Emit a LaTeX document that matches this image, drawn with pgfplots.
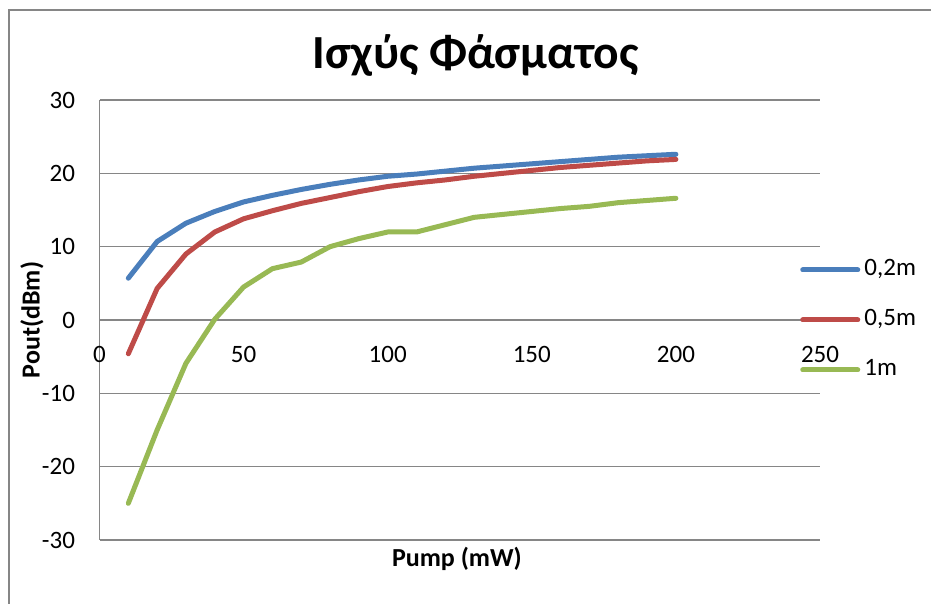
\documentclass[border=0pt]{standalone}
\usepackage{fontspec}
\setmainfont{Carlito}
\usepackage{pgfplots}
\pgfplotsset{compat=1.18}

\definecolor{serA}{HTML}{4A7EBB}
\definecolor{serB}{HTML}{BE4B48}
\definecolor{serC}{HTML}{98B954}
\definecolor{gridc}{HTML}{868686}

\begin{document}
\begin{tikzpicture}[x=1pt,y=1pt]
\useasboundingbox (0,0) rectangle (931,604);
% chart area frame
\draw[gridc, line width=1.5pt] (9,0) -- (9,594) -- (931,594);
\begin{axis}[
  at={(99.5pt,64pt)}, anchor=south west,
  scale only axis, width=720.5pt, height=440pt,
  xmin=0, xmax=250, ymin=-30, ymax=30,
  axis x line=middle, axis y line=left,
  axis line style={-, gridc, line width=1.5pt},
  hide obscured x ticks=false,
  xtick={0,50,100,150,200,250},
  xticklabels={0,50,100,150,200,250},
  ytick={-30,-20,-10,0,10,20,30},
  yticklabels={-30,-20,-10,0,10,20,30},
  major tick length=0pt,
  ymajorgrids, grid style={gridc, line width=1.5pt},
  tick label style={font=\fontsize{25}{29}\selectfont},
  xticklabel style={anchor=north, yshift=-23pt},
  yticklabel style={anchor=east, xshift=-21pt},
  title={\textbf{Ισχύς Φάσματος}},
  title style={at={(axis description cs:0.522,1.059)}, anchor=base,
    font=\fontsize{47.5}{52}\selectfont},
  xlabel={\textbf{Pump (mW)}},
  xlabel style={at={(axis description cs:0.496,0)}, anchor=center, yshift=-19pt,
    font=\fontsize{26}{30}\selectfont},
  ylabel={\textbf{Pout(dBm)}},
  ylabel style={at={(axis description cs:-0.0937,0.5)}, anchor=center, rotate=0,
    font=\fontsize{26}{30}\selectfont},
  every axis plot/.append style={line width=5pt, line cap=round, line join=round},
  legend style={at={(axis description cs:0.9723,0.5)}, anchor=west,
    draw=none, fill=none, inner sep=0pt, row sep=29pt,
    font=\fontsize{25}{29}\selectfont,
    nodes={inner sep=0pt, text height=16pt, text depth=5pt}},
  legend cell align=left,
  legend image code/.code={\draw[#1, line width=5pt, line cap=round] (0pt,0pt) -- (55pt,0pt);},
  clip=false,
]
\addplot[serA] coordinates {
  (10,5.7) (20,10.7) (30,13.2) (40,14.8) (50,16.1) (60,17.0) (70,17.8)
  (80,18.5) (90,19.1) (100,19.6) (110,19.9) (120,20.3) (130,20.7)
  (140,21.0) (150,21.3) (160,21.6) (170,21.9) (180,22.2) (190,22.4) (200,22.6)};
\addlegendentry{\,0,2m}
\addplot[serB] coordinates {
  (10,-4.6) (20,4.3) (30,9.0) (40,12.0) (50,13.8) (60,14.9) (70,15.9)
  (80,16.7) (90,17.5) (100,18.2) (110,18.7) (120,19.1) (130,19.6)
  (140,20.0) (150,20.4) (160,20.8) (170,21.1) (180,21.4) (190,21.7) (200,21.9)};
\addlegendentry{\,0,5m}
\addplot[serC] coordinates {
  (10,-25.0) (20,-15.0) (30,-5.9) (40,0.1) (50,4.5) (60,7.0) (70,7.9)
  (80,10.0) (90,11.1) (100,12.0) (110,12.0) (120,13.0) (130,14.0)
  (140,14.4) (150,14.8) (160,15.2) (170,15.5) (180,16.0) (190,16.3) (200,16.6)};
\addlegendentry{\,1m}
\end{axis}
\end{tikzpicture}
\end{document}
